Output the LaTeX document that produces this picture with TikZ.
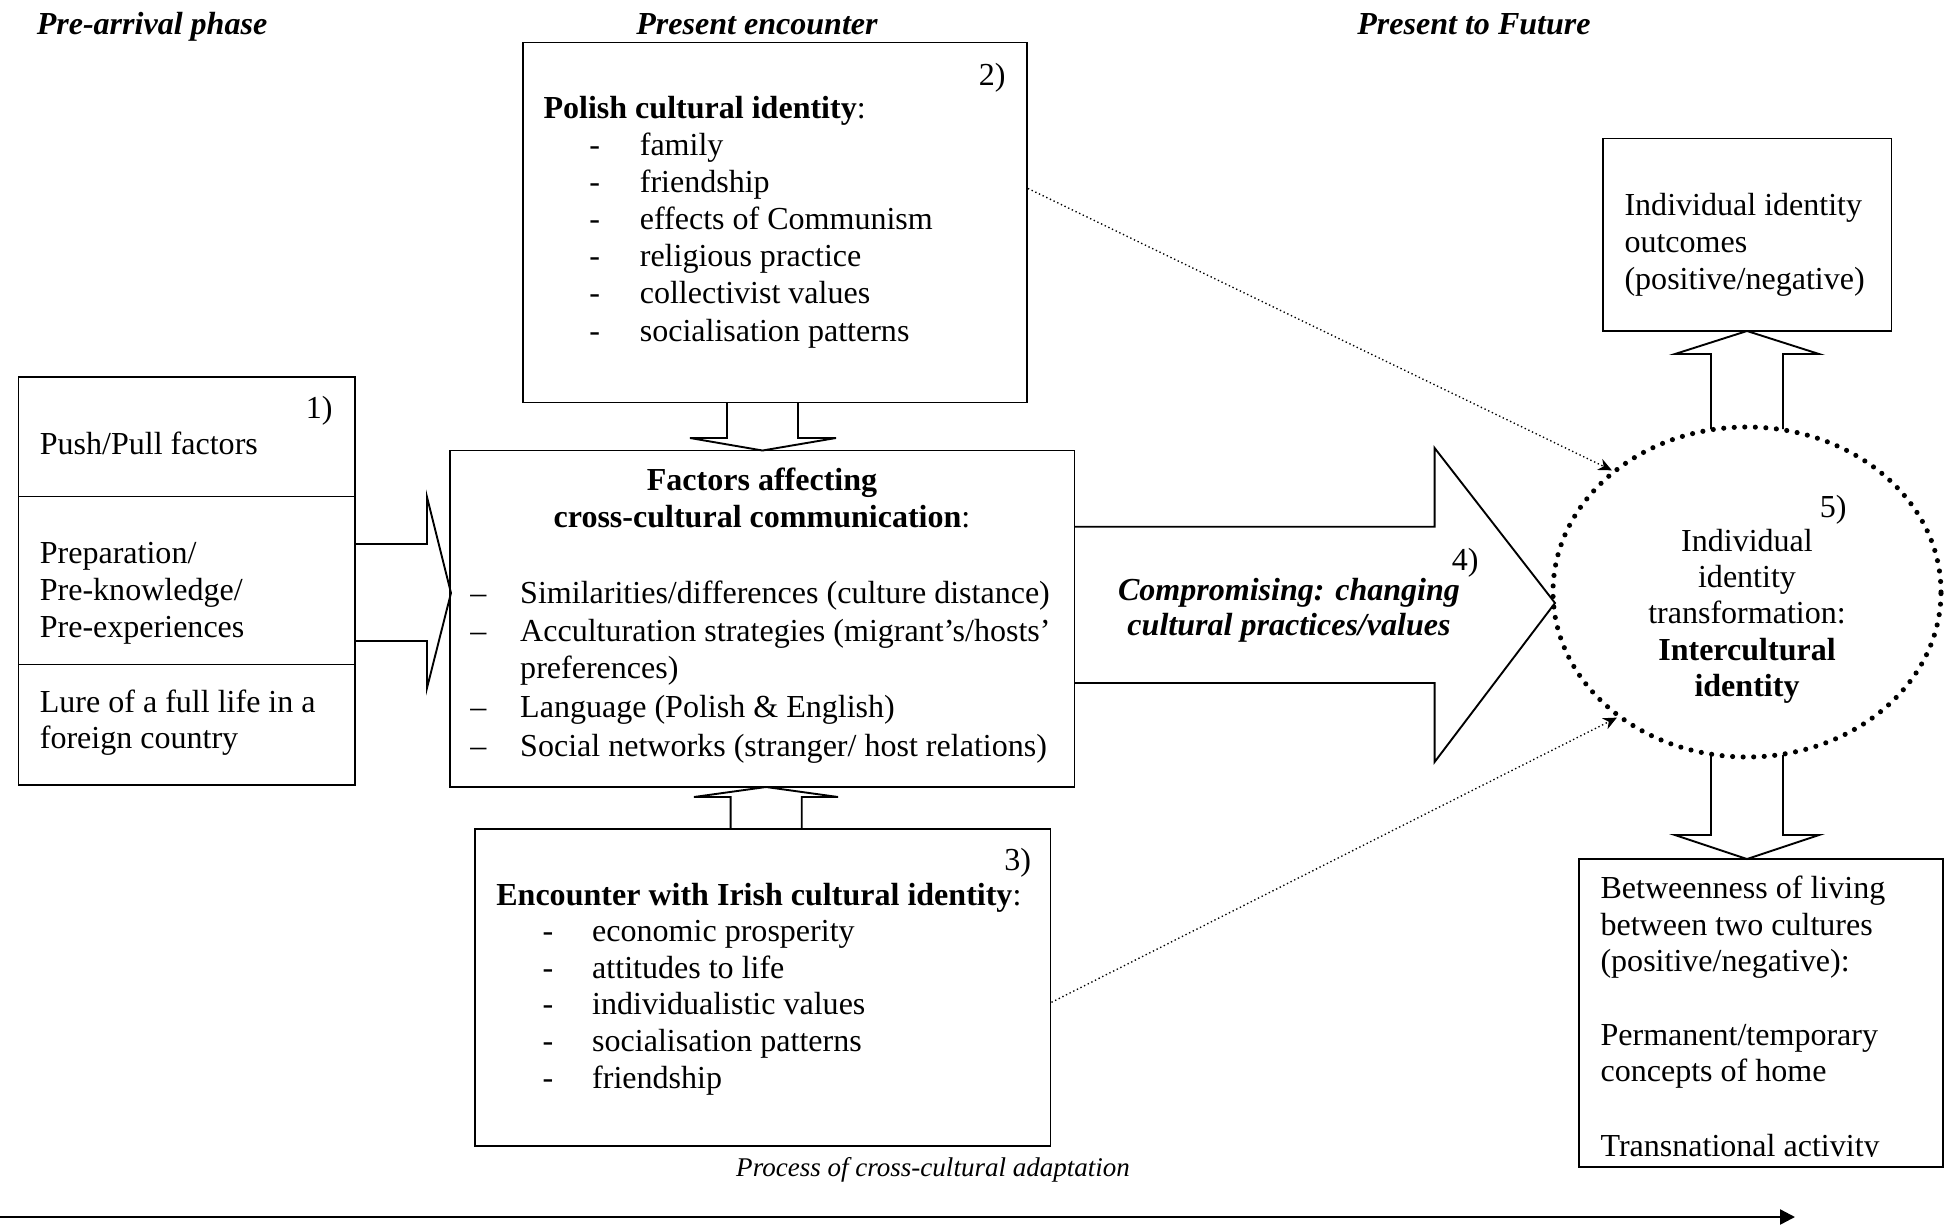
\documentclass[tikz,border=0pt]{standalone}
\usepackage{fontspec}
\setmainfont{Liberation Serif}
\usetikzlibrary{arrows.meta,calc,shapes.geometric}

% one drawing unit = one pixel of a 1950 x 1226 canvas, y running downwards
\newcommand{\PX}{0.013cm}
\newcommand{\bodyfont}{\fontsize{11.85}{13.8}\selectfont}

\tikzset{
  box/.style={draw, line width=0.7pt, inner sep=0pt, rectangle},
  txt/.style={anchor=base west, inner sep=0pt, font=\bodyfont},
  ctxt/.style={txt, anchor=base},
  rtxt/.style={txt, anchor=base east},
  phase/.style={ctxt, font=\bodyfont\bfseries\itshape},
  blockarrow/.style={draw, line width=0.7pt, line join=miter},
  link/.style={densely dotted, line width=0.5pt, -{Stealth[length=5pt,width=4.5pt]}},
  timeline/.style={line width=0.9pt, -{Triangle[length=5.5pt,width=5.5pt]}},
  dotring/.style={ellipse, draw, line width=1.9pt, dash pattern=on 0pt off 3.9pt,
    line cap=round, inner sep=0pt},
}

\begin{document}
\begin{tikzpicture}[x=0.013cm, y=-0.013cm]
\useasboundingbox (0,0) rectangle (1950,1226);

% ---------- phase headings ----------
\node[phase] (h1) at (152,34) {Pre-arrival phase};
\node[phase] (h2) at (757,34) {Present encounter};
\node[phase] (h3) at (1474,34) {Present to Future};

% ---------- boxes ----------
\node[box, minimum width=336.5*\PX, minimum height=119.5*\PX] (g1) at (186.75,436.75) {};
\node[box, minimum width=336.5*\PX, minimum height=168*\PX]   (g2) at (186.75,580.5) {};
\node[box, minimum width=336.5*\PX, minimum height=120.5*\PX] (g3) at (186.75,724.75) {};
\node[box, minimum width=504*\PX,   minimum height=360*\PX]   (pol) at (775,222.5) {};
\node[box, minimum width=624.5*\PX, minimum height=336.5*\PX] (fac) at (762.25,618.75) {};
\node[box, minimum width=575.5*\PX, minimum height=316.4*\PX] (iri) at (762.75,987.5) {};
\node[box, minimum width=288.5*\PX, minimum height=192.5*\PX] (out) at (1747.25,234.75) {};
\node[box, minimum width=364*\PX,   minimum height=308*\PX]   (bet) at (1761,1013) {};

% ---------- block arrows ----------
\draw[blockarrow] (355,544) -- (427,544) -- (427,497) -- (451,593) -- (427,688) -- (427,641) -- (355,641);
\draw[blockarrow] (727,402.5) -- (727,438) -- (690,438) -- (762.5,450.5) -- (836,438) -- (798,438) -- (798,402.5);
\draw[blockarrow] (730.6,829.3) -- (730.6,797) -- (694,797) -- (766,787) -- (838,797) -- (801.7,797) -- (801.7,829.3);
\draw[blockarrow] (1074.5,526.7) -- (1434.6,526.7) -- (1434.6,448) -- (1555,603) -- (1434.6,762) -- (1434.6,683) -- (1074.5,683);
\draw[blockarrow] (1711,429) -- (1711,354) -- (1675,354) -- (1747,331) -- (1819,354) -- (1783,354) -- (1783,429);
\draw[blockarrow] (1711,755) -- (1711,835) -- (1675,835) -- (1747,859) -- (1819,835) -- (1783,835) -- (1783,755);

% ---------- dotted ellipse ----------
\node[dotring, minimum width=388*\PX, minimum height=330*\PX] (ell) at (1747,592) {};

% ---------- 1) pre-arrival ----------
\node[rtxt] (n1) at (333,418) {1)};
\node[txt] (g1a) at (39.3,454) {Push/Pull factors};
\node[txt] (g2a) at (39.3,563) {Preparation/};
\node[txt] (g2b) at (39.3,600) {Pre-knowledge/};
\node[txt] (g2c) at (39.3,637) {Pre-experiences};
\node[txt] (g3a) at (39.3,712) {Lure of a full life in a};
\node[txt] (g3b) at (39.3,748.5) {foreign country};

% ---------- 2) Polish identity ----------
\node[rtxt] (n2) at (1006,85) {2)};
\node[txt] (polt) at (543,118) {\textbf{Polish cultural identity}:};
\foreach \t [count=\i from 0] in {family, friendship, effects of Communism,
    religious practice, collectivist values, socialisation patterns} {
  \node[ctxt] (pd\i) at (594.6,{155.5+37.1*\i}) {-};
  \node[txt]  (pl\i) at (639.3,{155.5+37.1*\i}) {\t};
}

% ---------- factors box ----------
\node[ctxt] (fact1) at (762,490) {\textbf{Factors affecting}};
\node[ctxt] (fact2) at (762,527) {\textbf{cross-cultural communication}:};
\node[ctxt] (fd1) at (478.5,603) {–};
\node[txt]  (fl1) at (519.7,603) {Similarities/differences (culture distance)};
\node[ctxt] (fd2) at (478.5,641) {–};
\node[txt]  (fl2) at (519.7,641) {Acculturation strategies (migrant’s/hosts’};
\node[txt]  (fl3) at (519.7,678) {preferences)};
\node[ctxt] (fd4) at (478.5,717) {–};
\node[txt]  (fl4) at (519.7,717) {Language (Polish \& English)};
\node[ctxt] (fd5) at (478.5,756) {–};
\node[txt]  (fl5) at (519.7,756) {Social networks (stranger/ host relations)};

% ---------- 3) Irish identity ----------
\node[rtxt] (n3) at (1031.5,870) {3)};
\node[txt] (irit) at (495.8,905) {\textbf{Encounter with Irish cultural identity}:};
\foreach \t [count=\i from 0] in {economic prosperity, attitudes to life,
    individualistic values, socialisation patterns, friendship} {
  \node[ctxt] (id\i) at (548,{941.7+36.6*\i}) {-};
  \node[txt]  (il\i) at (591.7,{941.7+36.6*\i}) {\t};
}

% ---------- 4) compromising ----------
\node[rtxt] (n4) at (1479,570) {4)};
\node[ctxt, font=\bodyfont\bfseries\itshape] (cmp1) at (1289,600) {Compromising: changing};
\node[ctxt, font=\bodyfont\bfseries\itshape] (cmp2) at (1289,635) {cultural practices/values};

% ---------- 5) identity transformation ----------
\node[rtxt] (n5) at (1847,517) {5)};
\node[ctxt] (e1) at (1747,551) {Individual};
\node[ctxt] (e2) at (1747,587.5) {identity};
\node[ctxt] (e3) at (1747,623.5) {transformation:};
\node[ctxt] (e4) at (1747,660) {\textbf{Intercultural}};
\node[ctxt] (e5) at (1747,696) {\textbf{identity}};

% ---------- outcomes ----------
\node[txt] (o1) at (1624,215.5) {Individual identity};
\node[txt] (o2) at (1624,252.5) {outcomes};
\node[txt] (o3) at (1624,289.5) {(positive/negative)};

% ---------- betweenness (last line cut off at the frame) ----------
\begin{scope}
  \clip (1580,860) rectangle (1942,1156.5);
  \node[txt] (b1) at (1600,898.3) {Betweenness of living};
  \node[txt] (b2) at (1600,935) {between two cultures};
  \node[txt] (b3) at (1600,971.7) {(positive/negative):};
  \node[txt] (b4) at (1600,1045) {Permanent/temporary};
  \node[txt] (b5) at (1600,1081.7) {concepts of home};
  \node[txt] (b6) at (1600,1156) {Transnational activity};
\end{scope}

% ---------- dotted links into the ellipse ----------
\draw[link] ($(pol.north east)!0.406!(pol.south east)$) -- (ell.138);
\draw[link] ($(iri.north east)!0.5465!(iri.south east)$) -- (ell.224);

% ---------- time line ----------
\node[txt, font=\fontsize{10}{12}\selectfont\itshape] (proc) at (735.7,1176.7) {Process of cross-cultural adaptation};
\coordinate (tl0) at (0,1217);
\coordinate (tl1) at (1795,1217);
\draw[timeline] (tl0) -- (tl1);

\end{tikzpicture}
\end{document}
